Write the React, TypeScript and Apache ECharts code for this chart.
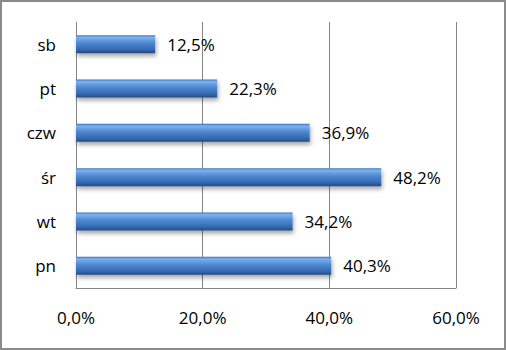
import React, { useEffect, useRef } from "react";
import * as echarts from "echarts";

const categories = ["pn", "wt", "śr", "czw", "pt", "sb"];
const values = [40.3, 34.2, 48.2, 36.9, 22.3, 12.5];
const tickMin = 0;
const tickMax = 60;
const tickInterval = 20;

const fmt = (v: number) => v.toFixed(1).replace(".", ",") + "%";

export default function App() {
  const ref = useRef<HTMLDivElement>(null);
  useEffect(() => {
    if (!ref.current) return;
    const chart = echarts.init(ref.current, null, { renderer: "svg" });
    chart.setOption({
      animation: false,
      backgroundColor: "#ffffff",
      grid: { left: 74, right: 48, top: 20, bottom: 60, containLabel: false },
      xAxis: {
        type: "value",
        min: tickMin,
        max: tickMax,
        interval: tickInterval,
        axisLine: { show: true, lineStyle: { color: "#868686", width: 1 } },
        axisTick: { show: false },
        splitLine: { show: true, lineStyle: { color: "#868686", width: 1 } },
        axisLabel: {
          formatter: (v: number) => fmt(v),
          color: "#000",
          fontFamily: "Open Sans",
          fontSize: 17,
          margin: 21,
        },
      },
      yAxis: {
        type: "category",
        data: categories,
        axisLine: { show: true, lineStyle: { color: "#868686", width: 1 } },
        axisTick: { show: false },
        axisLabel: {
          color: "#000",
          fontFamily: "Open Sans",
          fontSize: 17,
          margin: 20,
        },
      },
      series: [
        {
          type: "bar",
          data: values,
          barWidth: 18,
          itemStyle: {
            color: new echarts.graphic.LinearGradient(0, 0, 0, 1, [
              { offset: 0, color: "#3f74bd" },
              { offset: 0.12, color: "#7cb2ee" },
              { offset: 0.45, color: "#4d86d0" },
              { offset: 0.8, color: "#3669b0" },
              { offset: 1, color: "#244a80" },
            ]),
            shadowColor: "rgba(0,0,0,0.35)",
            shadowBlur: 4,
            shadowOffsetY: 3,
            shadowOffsetX: 1,
          },
          label: {
            show: true,
            position: "right",
            distance: 12,
            formatter: (p: any) => fmt(p.value),
            color: "#000",
            fontFamily: "Open Sans",
            fontSize: 17,
          },
        },
      ],
    });
    return () => chart.dispose();
  }, []);
  return (
    <div
      style={{
        position: "fixed",
        left: 0,
        top: 0,
        width: 506,
        height: 350,
        boxSizing: "border-box",
        border: "2px solid #8a8a8a",
        background: "#fff",
      }}
    >
      <div ref={ref} style={{ width: 502, height: 346 }} />
    </div>
  );
}
